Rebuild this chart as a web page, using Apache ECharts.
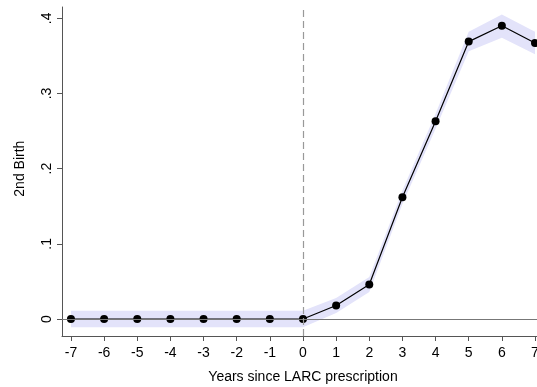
<!DOCTYPE html>
<html>
<head>
<meta charset="utf-8">
<script src="https://cdn.jsdelivr.net/npm/echarts@6/dist/echarts.min.js"></script>
<style>html,body{margin:0;padding:0;background:#fff}#c{width:537px;height:387px}</style>
</head>
<body>
<div id="c"></div>
<script>
const years = [-7,-6,-5,-4,-3,-2,-1,0,1,2,3,4,5,6,7];
const estimate = [0,0,0,0,0,0,0,0,0.018,0.046,0.162,0.263,0.369,0.390,0.367];
const ciLower = [-0.011,-0.011,-0.011,-0.011,-0.011,-0.011,-0.011,-0.011,0.008,0.036,0.153,0.253,0.356,0.374,0.352];
const ciUpper = [0.011,0.011,0.011,0.011,0.011,0.011,0.011,0.011,0.028,0.056,0.171,0.273,0.382,0.405,0.382];
const yTicks = [0, 0.1, 0.2, 0.3, 0.4];
const yTickLabels = ['0', '.1', '.2', '.3', '.4'];
const xTitle = 'Years since LARC prescription';
const yTitle = '2nd Birth';

const font = 'Liberation Sans, Arial, sans-serif';
const chart = echarts.init(document.getElementById('c'), null, {renderer: 'canvas'});

const ciData = years.map((x, i) => [x, ciLower[i], ciUpper[i]]);
const estData = years.map((x, i) => [x, estimate[i]]);

chart.setOption({
  animation: false,
  backgroundColor: '#fff',
  grid: [
    {left: 62, right: 0, top: 7, bottom: 51, containLabel: false, outerBoundsMode: 'none'},
    {left: 71, right: 2, top: 18.3, bottom: 68, containLabel: false, outerBoundsMode: 'none'}
  ],
  xAxis: [
    {gridIndex: 0, type: 'value', min: -7.27, max: 7.06,
     axisLine: {show: true, onZero: false, lineStyle: {color: '#555', width: 1}},
     axisTick: {show: false}, axisLabel: {show: false}, splitLine: {show: false}},
    {gridIndex: 1, type: 'value', min: -7, max: 7, interval: 1, offset: 17,
     axisLine: {show: false, onZero: false},
     axisTick: {show: true, length: 5, lineStyle: {color: '#555'}},
     axisLabel: {show: true, color: '#000', fontSize: 14, fontFamily: font, margin: 10},
     splitLine: {show: false},
     name: xTitle, nameLocation: 'middle', nameGap: 34,
     nameTextStyle: {color: '#000', fontSize: 14, fontFamily: font}}
  ],
  yAxis: [
    {gridIndex: 0, type: 'value', min: -0.0226, max: 0.415,
     axisLine: {show: true, onZero: false, lineStyle: {color: '#555', width: 1}},
     axisTick: {show: false}, axisLabel: {show: false}, splitLine: {show: false}},
    {gridIndex: 1, type: 'value', min: 0, max: 0.4, interval: 0.1, offset: 9,
     axisLine: {show: false, onZero: false},
     axisTick: {show: true, length: 5, lineStyle: {color: '#555'}},
     axisLabel: {show: true, color: '#000', fontSize: 14, fontFamily: font, rotate: 90, margin: 8,
       formatter: v => { const i = yTicks.findIndex(t => Math.abs(t - v) < 1e-9); return i >= 0 ? yTickLabels[i] : ''; }},
     splitLine: {show: false},
     name: yTitle, nameLocation: 'middle', nameGap: 35, nameRotate: 90,
     nameTextStyle: {color: '#000', fontSize: 14, fontFamily: font}}
  ],
  series: [
    {type: 'custom', xAxisIndex: 0, yAxisIndex: 0, data: ciData, silent: true, z: 1,
     encode: {x: 0, y: [1, 2]},
     renderItem: (params, api) => {
       if (params.dataIndex !== 0) return null;
       const upper = ciData.map(d => api.coord([d[0], d[2]]));
       const lower = ciData.map(d => api.coord([d[0], d[1]])).reverse();
       return {type: 'polygon', shape: {points: upper.concat(lower)},
               style: {fill: '#e3e3fa', stroke: null}};
     }},
    {type: 'line', xAxisIndex: 0, yAxisIndex: 0, data: [], silent: true, z: 3,
     markLine: {symbol: 'none', silent: true, label: {show: false},
       data: [
         {yAxis: 0, lineStyle: {color: '#777', type: 'solid', width: 1}},
         {xAxis: 0, lineStyle: {color: '#999', type: [7, 4], width: 1.2}}
       ]}},
    {type: 'line', xAxisIndex: 0, yAxisIndex: 0, data: estData, z: 4,
     symbol: 'circle', symbolSize: 8,
     lineStyle: {color: '#000', width: 1.2},
     itemStyle: {color: '#000'}}
  ]
});
</script>
</body>
</html>
